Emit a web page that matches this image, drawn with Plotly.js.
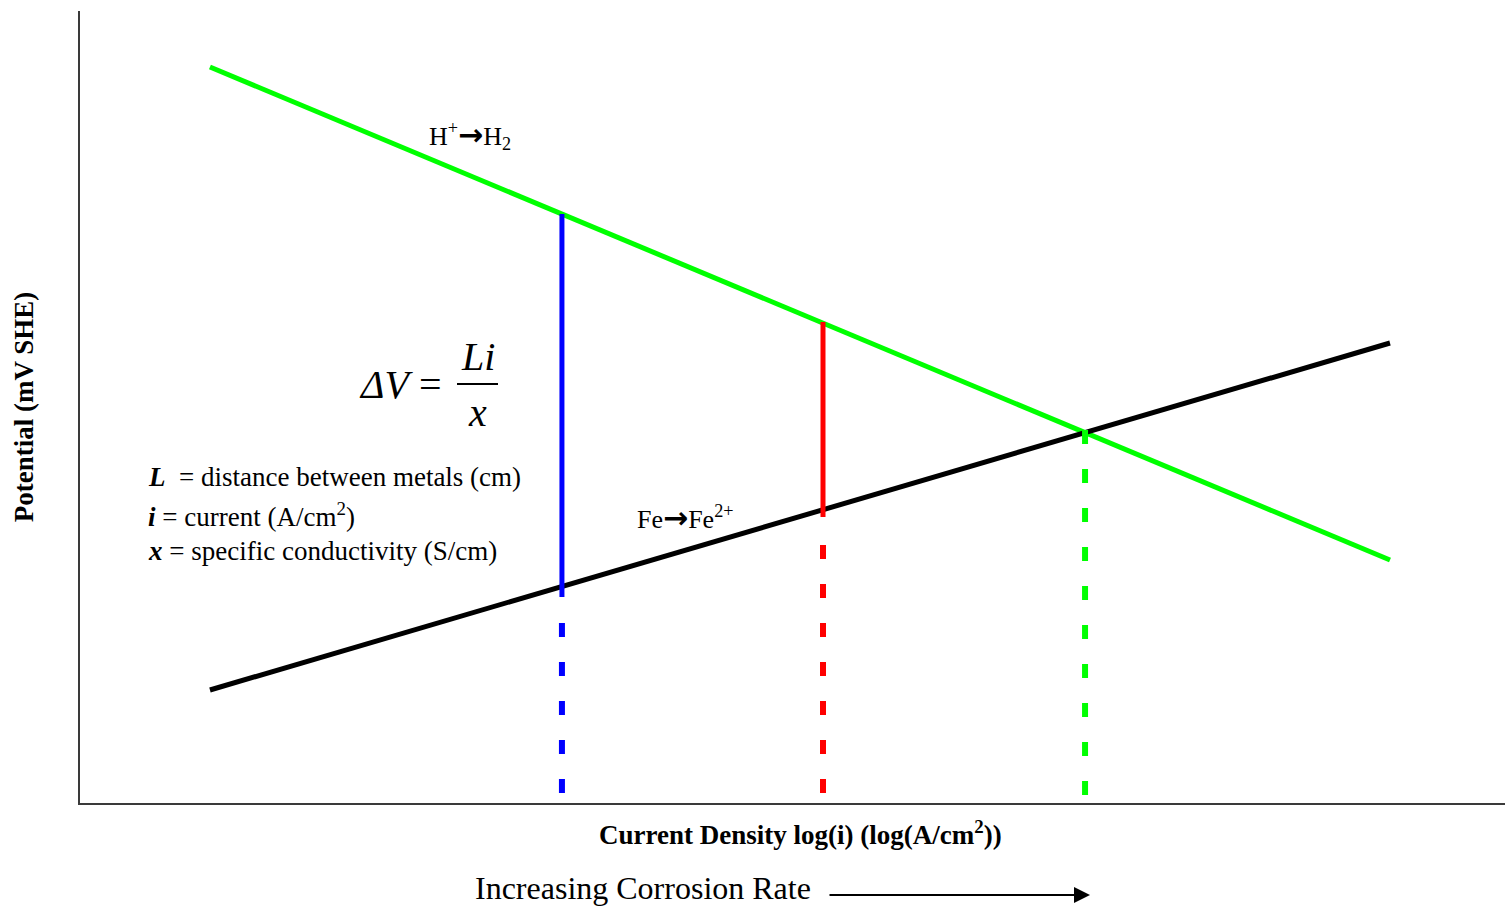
<!DOCTYPE html>
<html>
<head>
<meta charset="utf-8">
<script src="https://cdn.plot.ly/plotly-3.0.1.min.js"></script>
<style>
  html, body { margin: 0; padding: 0; background: #fff; }
  #chart { width: 1505px; height: 907px; }
</style>
</head>
<body>
<div id="chart"></div>
<script>
// ---- data (arbitrary log-current / potential units) ----
const tafelCurrent = [0.912, 9.193];          // log(i) endpoints of both Tafel lines
const h2Potential  = [9.293, 3.068];          // H+ -> H2 (cathodic)
const fePotential  = [1.427, 5.808];          // Fe -> Fe2+ (anodic)

const dropCurrent  = [3.382, 5.214];          // IR-drop positions (blue, red)
const dropTop      = [7.436, 6.073];
const dropBottom   = [2.601, 3.611];
const dropColors   = ['#0000FF', '#FF0000'];

const guideCurrent = [3.382, 5.214, 7.053];   // dashed guides (blue, red, green)
const guideTop     = [2.273, 3.258, 4.710];
const guideBottom  = [0.126, 0.126, 0.101];
const guideColors  = ['#0000FF', '#FF0000', '#00FF00'];

const xTitle = 'Current Density log(i) (log(A/cm<sup>2</sup>))';
const yTitle = 'Potential (mV SHE)';

// ---- helpers for text placement (page px -> axis units) ----
const X = px => (px - 80) / 142.5;
const Y = py => (803 - py) / 79.2;
const PX = px => (px - 80) / 1425;
const PY = py => (803 - py) / 792;

const serif = 'Liberation Serif, Times New Roman, serif';
const ARROW = '<span style="font-family:DejaVu Sans;font-size:30px"><b>→</b></span>';

const traces = [];
traces.push({ x: tafelCurrent, y: h2Potential, mode: 'lines', line: { color: '#00FF00', width: 5 }, hoverinfo: 'skip' });
traces.push({ x: tafelCurrent, y: fePotential, mode: 'lines', line: { color: '#000000', width: 5 }, hoverinfo: 'skip' });
guideCurrent.forEach((c, k) => {
  traces.push({ x: [c, c], y: [guideTop[k], guideBottom[k]], mode: 'lines',
    line: { color: guideColors[k], width: 6, dash: '14px,25px' }, hoverinfo: 'skip' });
});
dropCurrent.forEach((c, k) => {
  traces.push({ x: [c, c], y: [dropTop[k], dropBottom[k]], mode: 'lines',
    line: { color: dropColors[k], width: 5 }, hoverinfo: 'skip' });
});

const txt = (text, x, y, size, opts) => Object.assign({
  text, x, y, xref: 'x', yref: 'y', showarrow: false, yanchor: 'middle',
  font: { family: serif, size: size, color: '#000' }
}, opts || {});

const annotations = [
  txt('H<sup>+</sup>' + ARROW + 'H<sub>2</sub>', X(470), Y(135), 26),
  txt('Fe' + ARROW + 'Fe<sup>2+</sup>', X(685), Y(517), 26),
  txt('<i>ΔV</i> =', X(357), Y(384), 40, { xanchor: 'left' }),
  txt('<i>Li</i>', X(478), Y(356), 40),
  txt('<i>x</i>', X(477), Y(412), 40),
  txt('<b><i>L</i></b>  = distance between metals (cm)', X(146), Y(477), 27, { xanchor: 'left' }),
  txt('<b><i>i</i></b> = current (A/cm<sup>2</sup>)', X(146), Y(515), 27, { xanchor: 'left' }),
  txt('<b><i>x</i></b> = specific conductivity (S/cm)', X(146), Y(551), 27, { xanchor: 'left' }),
  { text: '<b>' + xTitle + '</b>', xref: 'paper', yref: 'paper', x: PX(800), y: PY(833),
    xanchor: 'center', yanchor: 'middle',
    showarrow: false, font: { family: serif, size: 27, color: '#000' } },
  { text: 'Increasing Corrosion Rate', xref: 'paper', yref: 'paper', x: PX(643), y: PY(888),
    xanchor: 'center', yanchor: 'middle',
    showarrow: false, font: { family: serif, size: 32, color: '#000' } },
  { text: '', xref: 'paper', yref: 'paper', x: PX(1090), y: PY(895), axref: 'pixel', ayref: 'pixel',
    ax: -262, ay: 0, showarrow: true, arrowhead: 2, arrowsize: 1.6, arrowwidth: 2, arrowcolor: '#000' }
];

const layout = {
  width: 1505, height: 907,
  margin: { l: 80, r: 0, t: 11, b: 104, pad: 0 },
  paper_bgcolor: '#fff', plot_bgcolor: '#fff',
  showlegend: false,
  xaxis: { range: [0, 10], showgrid: false, zeroline: false, showticklabels: false, ticks: '',
    showline: true, linecolor: '#3a3a3a', linewidth: 2, fixedrange: true },
  yaxis: { range: [0, 10], showgrid: false, zeroline: false, showticklabels: false, ticks: '',
    showline: true, linecolor: '#3a3a3a', linewidth: 2, fixedrange: true,
    title: { text: '<b>' + yTitle + '</b>', standoff: 37, font: { family: serif, size: 27, color: '#000' } } },
  annotations: annotations,
  shapes: [
    { type: 'line', xref: 'x', yref: 'y', x0: X(457), x1: X(498), y0: Y(384), y1: Y(384),
      line: { color: '#000', width: 2 } }
  ]
};

Plotly.newPlot('chart', traces, layout, { displayModeBar: false, staticPlot: true });
</script>
</body>
</html>
